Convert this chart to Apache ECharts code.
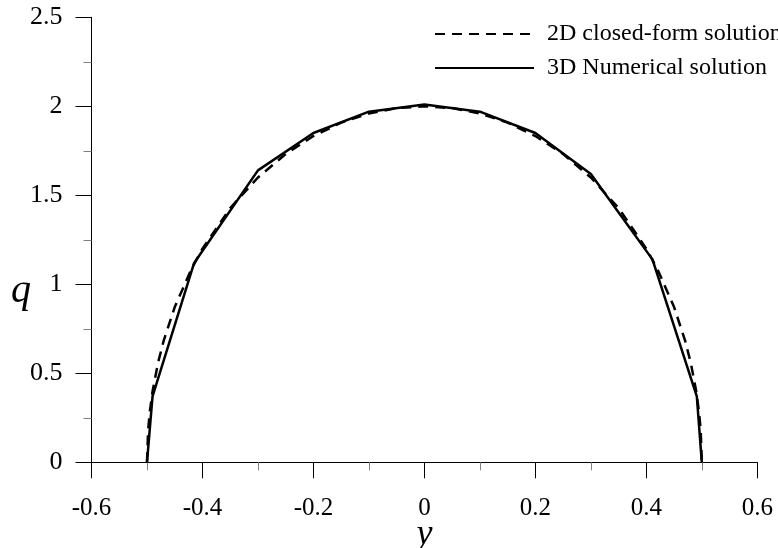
<!DOCTYPE html>
<html>
<head>
<meta charset="utf-8">
<script src="https://cdn.jsdelivr.net/npm/echarts@6/dist/echarts.min.js"></script>
<style>html,body{margin:0;padding:0;background:#fff}#c{width:778px;height:548px}</style>
</head>
<body>
<div id="c"></div>
<script>
// 2D closed-form solution (dashed)
const closedY = [-0.5, -0.498, -0.495, -0.49, -0.48, -0.47, -0.45, -0.42, -0.4, -0.35, -0.3, -0.25, -0.2, -0.15, -0.1, -0.05, 0,
                 0.05, 0.1, 0.15, 0.2, 0.25, 0.3, 0.35, 0.4, 0.42, 0.45, 0.47, 0.48, 0.49, 0.495, 0.498, 0.5];
const closedQ = [0, 0.179, 0.282, 0.398, 0.56, 0.682, 0.872, 1.085, 1.2, 1.428, 1.6, 1.732, 1.833, 1.908, 1.96, 1.99, 2.0,
                 1.99, 1.96, 1.908, 1.833, 1.732, 1.6, 1.428, 1.2, 1.085, 0.872, 0.682, 0.56, 0.398, 0.282, 0.179, 0];
// 3D numerical solution (solid)
const numY = [-0.5, -0.49, -0.415, -0.3, -0.2, -0.1, 0, 0.1, 0.2, 0.3, 0.411, 0.491, 0.5];
const numQ = [0, 0.37, 1.12, 1.64, 1.85, 1.97, 2.01, 1.97, 1.85, 1.62, 1.14, 0.37, 0];

const seriesNames = ['2D closed-form solution', '3D Numerical solution'];
const xTicks = {min: -0.6, max: 0.6, interval: 0.2};
const yTicks = {min: 0, max: 2.5, interval: 0.5};

const font = '"Liberation Serif", "Times New Roman", serif';
const chart = echarts.init(document.getElementById('c'));
const axisCommon = {
  axisLine: {onZero: false, lineStyle: {color: '#000', width: 1}},
  axisTick: {inside: false, length: 16, lineStyle: {color: '#000', width: 1}},
  minorTick: {show: true, splitNumber: 2, length: 8, lineStyle: {color: '#808080', width: 1}},
  splitLine: {show: false},
  minorSplitLine: {show: false}
};
chart.setOption({
  backgroundColor: '#fff',
  animation: false,
  color: ['#000', '#000'],
  grid: {left: 91.5, right: 20.7, top: 17.3, bottom: 85.7, containLabel: false, outerBoundsMode: 'none'},
  legend: {
    orient: 'vertical', left: 429, top: 17, itemWidth: 99, itemHeight: 20, itemGap: 10,
    itemStyle: {opacity: 0},
    textStyle: {fontFamily: font, fontSize: 24, color: '#000', padding: [0, 0, 0, 8]},
    data: seriesNames
  },
  xAxis: Object.assign({
    type: 'value', min: xTicks.min, max: xTicks.max, interval: xTicks.interval,
    name: 'y', nameLocation: 'middle', nameGap: 54, nameMoveOverlap: false,
    nameTextStyle: {fontFamily: font, fontStyle: 'italic', fontSize: 36, color: '#000'},
    axisLabel: {margin: 34, fontFamily: font, fontSize: 25, color: '#000'}
  }, axisCommon),
  yAxis: Object.assign({
    type: 'value', min: yTicks.min, max: yTicks.max, interval: yTicks.interval,
    axisLabel: {margin: 29, fontFamily: font, fontSize: 26, color: '#000'}
  }, axisCommon),
  graphic: [{
    type: 'text', left: 11, top: 271,
    style: {text: 'q', font: 'italic 40px ' + font, fill: '#000'}
  }],
  series: [
    {
      name: seriesNames[0], type: 'line', symbol: 'none', z: 2,
      itemStyle: {color: '#000'},
      lineStyle: {color: '#000', width: 2.5, type: [10, 7]},
      data: closedY.map((v, i) => [v, closedQ[i]])
    },
    {
      name: seriesNames[1], type: 'line', symbol: 'none', z: 3,
      itemStyle: {color: '#000'},
      lineStyle: {color: '#000', width: 2.5, type: 'solid'},
      data: numY.map((v, i) => [v, numQ[i]])
    }
  ]
});
</script>
</body>
</html>
